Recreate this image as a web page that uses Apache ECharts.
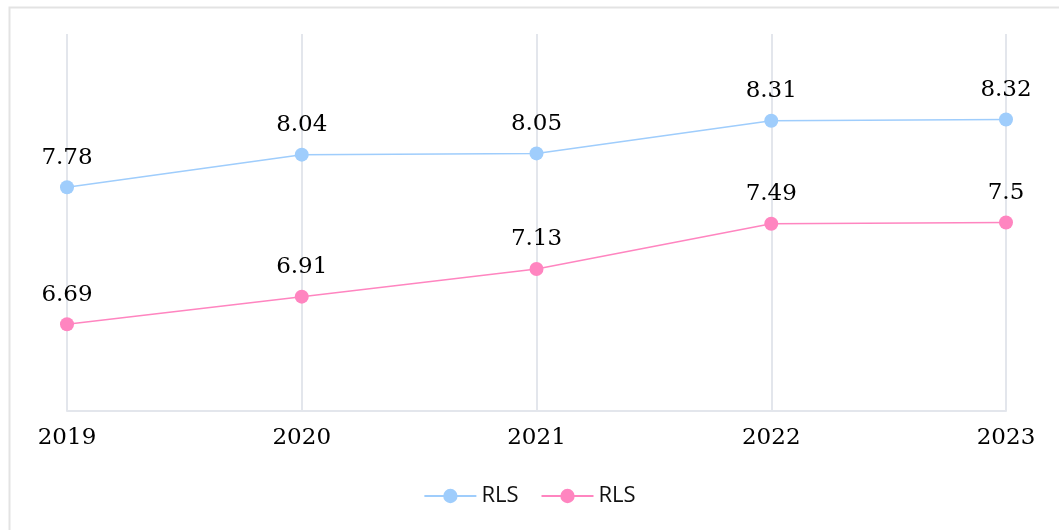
<!DOCTYPE html>
<html>
<head>
<meta charset="utf-8">
<script src="https://cdn.jsdelivr.net/npm/echarts@6/dist/echarts.min.js"></script>
<style>
  html, body { margin: 0; padding: 0; background: #fff; }
  #main { width: 1059px; height: 530px; }
</style>
</head>
<body>
<div id="main"></div>
<script>
// 数据
const years = ['2019', '2020', '2021', '2022', '2023'];
const seriesA = [7.78, 8.04, 8.05, 8.31, 8.32];
const seriesB = [6.69, 6.91, 7.13, 7.49, 7.5];
const seriesNames = ['RLS', 'RLS'];

const chart = echarts.init(document.getElementById('main'));

const labelStyle = {
  show: true,
  position: 'top',
  distance: 11,
  fontFamily: 'DejaVu Serif',
  fontSize: 23,
  color: '#000'
};

chart.setOption({
  color: ['#9fcdfc', '#ff85c0'],
  graphic: [{
    type: 'rect',
    left: 7,
    top: 5,
    shape: { width: 1200, height: 700 },
    style: { fill: 'none', stroke: '#e3e3e3', lineWidth: 2 },
    silent: true
  }],
  legend: {
    bottom: 18,
    left: 'center',
    itemWidth: 52,
    itemHeight: 18,
    itemGap: 22,
    textStyle: { fontFamily: 'Open Sans', fontSize: 22, color: '#111' },
    data: ['a', 'b'],
    formatter: function (name) { return name === 'a' ? seriesNames[0] : seriesNames[1]; }
  },
  grid: {
    left: 67,
    right: 53,
    top: 34,
    bottom: 119
  },
  xAxis: {
    type: 'category',
    data: years,
    boundaryGap: false,
    axisLine: { lineStyle: { color: '#e3e6ec', width: 2 } },
    axisTick: { show: false },
    splitLine: { show: true, lineStyle: { color: '#e3e6ec', width: 2 } },
    axisLabel: {
      margin: 16,
      fontFamily: 'DejaVu Serif',
      fontSize: 23,
      color: '#000'
    }
  },
  yAxis: {
    type: 'value',
    min: 6,
    max: 9,
    show: false,
    splitLine: { show: false }
  },
  series: [
    {
      name: 'a',
      type: 'line',
      data: seriesA,
      symbol: 'circle',
      symbolSize: 14,
      lineStyle: { width: 1.5 },
      label: labelStyle
    },
    {
      name: 'b',
      type: 'line',
      data: seriesB,
      symbol: 'circle',
      symbolSize: 14,
      lineStyle: { width: 1.5 },
      label: labelStyle
    }
  ],
  animation: false
});
</script>
</body>
</html>
